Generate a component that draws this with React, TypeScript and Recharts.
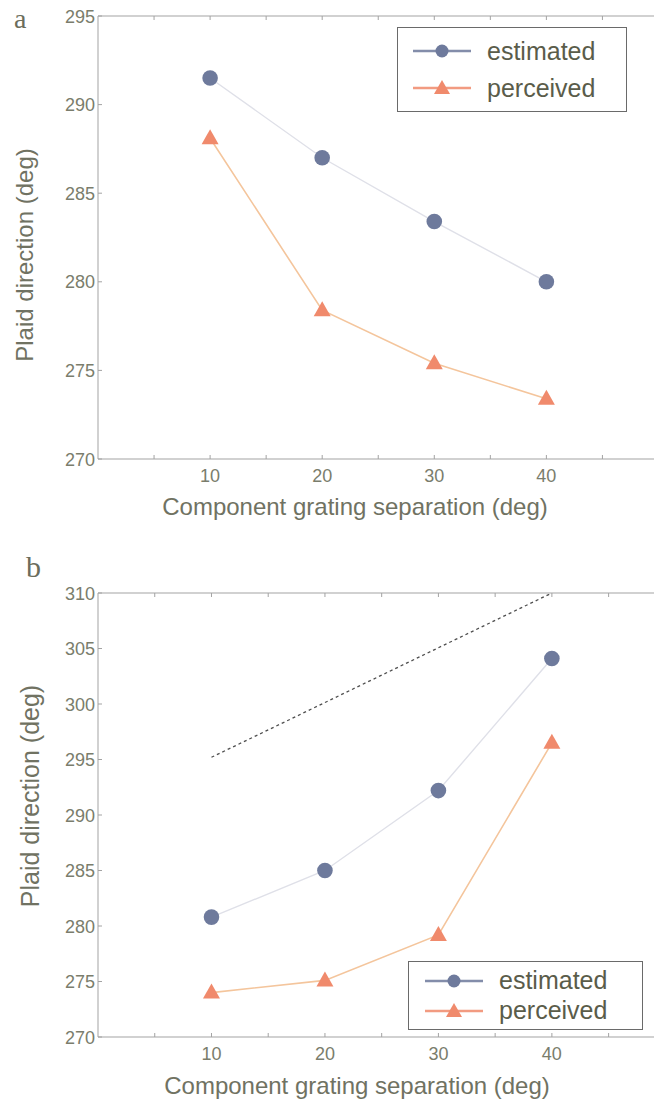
import { LineChart, Line, XAxis, YAxis, Legend } from "recharts";

// separation of the two component gratings (deg)
const separations = [10, 20, 30, 40];

// panel a
const estimatedA = [291.5, 287.0, 283.4, 280.0];
const perceivedA = [288.1, 278.4, 275.4, 273.4];
const yTicksA = [270, 275, 280, 285, 290, 295];

// panel b
const estimatedB = [280.8, 285.0, 292.2, 304.1];
const perceivedB = [274.0, 275.1, 279.2, 296.5];
const diagX = [10, 40];
const diagB = [295.2, 310];
const yTicksB = [270, 275, 280, 285, 290, 295, 300, 305, 310];

const xTicks = [5, 10, 15, 20, 25, 30, 35, 40, 45];

const EST = "#6e7a9c";
const PER = "#f08a6c";
const TICK_TXT = "#7a7d6c";
const TITLE_TXT = "#707262";
const AXIS = "#a3a3a3";
const FONT = "'Liberation Sans', Arial, sans-serif";

const dataA = separations.map((x, i) => ({ x, est: estimatedA[i], per: perceivedA[i] }));
const dataB = separations.map((x, i) => ({ x, est: estimatedB[i], per: perceivedB[i] }));
const diagData = diagX.map((x, i) => ({ x, diag: diagB[i] }));

const Triangle = (props: any) => {
  const { cx, cy } = props;
  if (cx == null || cy == null) return null;
  return <path d={`M${cx},${cy - 9} L${cx + 8.5},${cy + 6} L${cx - 8.5},${cy + 6} Z`} fill={PER} />;
};

const XTick = (props: any) => {
  const { x, y, payload } = props;
  const v = payload?.value;
  if (v == null || v % 10 !== 0) return null;
  return (
    <text x={x} y={y + 21} textAnchor="middle" fontSize={18} fontFamily={FONT} fill={TICK_TXT}>
      {v}
    </text>
  );
};

const YTick = (props: any) => {
  const { x, y, payload } = props;
  return (
    <text x={x + 2} y={y + 6.5} textAnchor="end" fontSize={18} fontFamily={FONT} fill={TICK_TXT}>
      {payload?.value}
    </text>
  );
};

type LegendCfg = { left: number; top: number; w: number; h: number; fs: number; pad: number; gap: number };

const LegendBox = ({ cfg }: { cfg: LegendCfg }) => (
  <div
    style={{
      width: cfg.w,
      height: cfg.h,
      border: "1.5px solid #6a6a6a",
      background: "#fff",
      boxSizing: "border-box",
      fontFamily: FONT,
      fontSize: cfg.fs,
      color: "#5a5c4a",
      display: "flex",
      flexDirection: "column",
      justifyContent: "center",
      paddingLeft: cfg.pad,
      gap: cfg.gap,
    }}
  >
    {[
      { name: "estimated", color: EST, tri: false },
      { name: "perceived", color: PER, tri: true },
    ].map((e) => (
      <div key={e.name} style={{ display: "flex", alignItems: "center", lineHeight: 1 }}>
        <svg width={58} height={18} style={{ marginRight: 16 }}>
          <line x1={0} y1={9} x2={58} y2={9} stroke={e.color} strokeWidth={2.5} opacity={0.85} />
          {e.tri ? (
            <path d="M29,1 L37,15 L21,15 Z" fill={e.color} />
          ) : (
            <circle cx={29} cy={9} r={6.5} fill={e.color} />
          )}
        </svg>
        <span>{e.name}</span>
      </div>
    ))}
  </div>
);

function Panel({
  data,
  domainX,
  domainY,
  yTicks,
  height,
  top,
  bottom,
  legend,
  diag,
}: {
  data: any[];
  domainX: [number, number];
  domainY: [number, number];
  yTicks: number[];
  height: number;
  top: number;
  bottom: number;
  legend: LegendCfg;
  diag?: boolean;
}) {
  return (
    <LineChart width={654} height={height} data={data} margin={{ top: top - 1, right: 0, left: 38, bottom }}>
      <XAxis
        dataKey="x"
        type="number"
        domain={domainX}
        ticks={xTicks}
        allowDataOverflow
        stroke={AXIS}
        tickSize={-4}
        tickMargin={6}
        height={30}
        tick={<XTick />}
      />
      <XAxis
        xAxisId="top"
        orientation="top"
        dataKey="x"
        type="number"
        domain={domainX}
        ticks={xTicks}
        allowDataOverflow
        tickFormatter={() => ""}
        stroke={AXIS}
        tickSize={-4}
        height={1}
      />
      <YAxis
        type="number"
        domain={domainY}
        ticks={yTicks}
        allowDataOverflow
        stroke={AXIS}
        tickSize={-4}
        tickMargin={9}
        width={60}
        tick={<YTick />}
      />
      {diag && (
        <Line
          data={diagData}
          dataKey="diag"
          stroke="#4f4f4f"
          strokeWidth={1.3}
          strokeDasharray="3 3"
          dot={false}
          isAnimationActive={false}
          legendType="none"
        />
      )}
      <Line
        dataKey="est"
        name="estimated"
        stroke="#dfe0e8"
        strokeWidth={1.4}
        dot={{ r: 7.8, fill: EST, stroke: "none" }}
        isAnimationActive={false}
      />
      <Line
        dataKey="per"
        name="perceived"
        stroke="#f4c59c"
        strokeWidth={1.6}
        dot={<Triangle />}
        isAnimationActive={false}
      />
      <Legend
        layout="horizontal"
        verticalAlign="middle"
        align="center"
        content={() => <LegendBox cfg={legend} />}
        wrapperStyle={{ position: "absolute", left: legend.left, top: legend.top, width: legend.w }}
      />
    </LineChart>
  );
}

const textStyle = { position: "absolute" as const, fontFamily: FONT, color: TITLE_TXT, whiteSpace: "nowrap" as const };

export default function App() {
  return (
    <div style={{ position: "absolute", left: 0, top: 0, width: 654, height: 1112, background: "#fff" }}>
      {/* panel a */}
      <div style={{ position: "absolute", left: 0, top: 0 }}>
        <Panel
          data={dataA}
          domainX={[0, 49.6]}
          domainY={[270, 295]}
          yTicks={yTicksA}
          height={540}
          top={16}
          bottom={51}
          legend={{ left: 397, top: 27, w: 230, h: 85, fs: 25, pad: 15, gap: 12 }}
        />
      </div>
      {/* panel b */}
      <div style={{ position: "absolute", left: 0, top: 548 }}>
        <Panel
          data={dataB}
          domainX={[0, 49]}
          domainY={[270, 310]}
          yTicks={yTicksB}
          height={564}
          top={45}
          bottom={45}
          legend={{ left: 408, top: 413, w: 235, h: 69, fs: 25, pad: 16, gap: 5 }}
          diag
        />
      </div>

      <div style={{ ...textStyle, left: 14, top: 3, fontFamily: "'Liberation Serif', serif", fontSize: 28, color: "#6b6d5c" }}>a</div>
      <div style={{ ...textStyle, left: 26, top: 550, fontFamily: "'Liberation Serif', serif", fontSize: 30, color: "#6b6d5c" }}>b</div>

      <div style={{ ...textStyle, left: 355, top: 507, fontSize: 24, transform: "translate(-50%, -50%)" }}>
        Component grating separation (deg)
      </div>
      <div style={{ ...textStyle, left: 357, top: 1086, fontSize: 24, transform: "translate(-50%, -50%)" }}>
        Component grating separation (deg)
      </div>

      <div style={{ ...textStyle, left: 25, top: 255, fontSize: 24, transform: "translate(-50%, -50%) rotate(-90deg)" }}>
        Plaid direction (deg)
      </div>
      <div style={{ ...textStyle, left: 30, top: 796, fontSize: 25, transform: "translate(-50%, -50%) rotate(-90deg)" }}>
        Plaid direction (deg)
      </div>
    </div>
  );
}
